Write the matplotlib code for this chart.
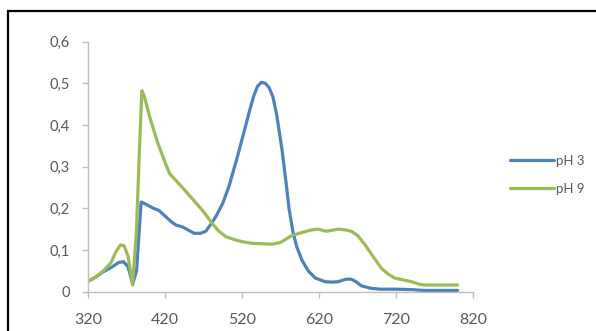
import matplotlib
matplotlib.use("Agg")
import matplotlib.pyplot as plt
from matplotlib.patches import Rectangle
from matplotlib.ticker import FuncFormatter

plt.rcParams['font.family'] = ['Lato', 'DejaVu Sans']

# absorbance spectra, wavelength in nm
wl_ph3 = [320, 330, 340, 350, 360, 366, 372, 378, 383, 389, 395, 405, 412, 421,
          428, 434, 443, 450, 458, 466, 473, 480, 486, 495, 503, 515, 525, 530,
          535, 540, 545, 550, 555, 560, 565, 572, 577, 581, 586, 591, 598, 606,
          615, 628, 637, 645, 655, 662, 668, 675, 688, 700, 720, 740, 757, 780, 800]
abs_ph3 = [0.025, 0.035, 0.048, 0.058, 0.070, 0.072, 0.060, 0.018, 0.050, 0.215,
           0.210, 0.200, 0.195, 0.180, 0.168, 0.160, 0.155, 0.148, 0.140, 0.140,
           0.145, 0.163, 0.180, 0.212, 0.252, 0.330, 0.400, 0.435, 0.468, 0.492,
           0.502, 0.500, 0.490, 0.468, 0.425, 0.340, 0.265, 0.200, 0.145, 0.108,
           0.075, 0.050, 0.033, 0.024, 0.023, 0.024, 0.030, 0.030, 0.024, 0.014,
           0.008, 0.006, 0.006, 0.005, 0.003, 0.003, 0.003]

wl_ph9 = [320, 330, 340, 350, 356, 362, 367, 372, 378, 383, 387, 390, 393, 400,
          410, 420, 426, 440, 455, 470, 482, 490, 499, 510, 520, 533, 545, 559,
          570, 585, 600, 610, 619, 625, 630, 645, 655, 662, 670, 680, 690, 701,
          710, 718, 730, 740, 750, 757, 780, 800]
abs_ph9 = [0.025, 0.035, 0.050, 0.070, 0.095, 0.112, 0.110, 0.085, 0.016, 0.150,
           0.350, 0.482, 0.470, 0.420, 0.360, 0.310, 0.283, 0.255, 0.224, 0.192,
           0.162, 0.145, 0.132, 0.125, 0.120, 0.116, 0.115, 0.114, 0.118, 0.135,
           0.143, 0.148, 0.150, 0.147, 0.145, 0.150, 0.148, 0.145, 0.135, 0.112,
           0.085, 0.056, 0.042, 0.033, 0.028, 0.024, 0.018, 0.016, 0.016, 0.016]

series_names = ["pH 3", "pH 9"]
x_ticks = [320, 420, 520, 620, 720, 820]
y_ticks = [0, 0.1, 0.2, 0.3, 0.4, 0.5, 0.6]

blue = "#4F81BD"
green = "#9BBB59"
grey_txt = "#595959"
grey_ax = "#BFBFBF"

fig = plt.figure(figsize=(5.96, 3.31), dpi=100)
fig.patch.set_facecolor("white")
ax = fig.add_axes([88/596, 1 - 291.7/331, (473 - 88)/596, (291.7 - 41.5)/331])

ax.plot(wl_ph3, abs_ph3, color=blue, lw=2.3, label=series_names[0], solid_capstyle="round",
        solid_joinstyle="round")
ax.plot(wl_ph9, abs_ph9, color=green, lw=2.3, label=series_names[1], solid_capstyle="round",
        solid_joinstyle="round")

ax.set_xlim(320, 820)
ax.set_ylim(0, 0.6)
ax.set_xticks(x_ticks)
ax.set_yticks(y_ticks)
ax.yaxis.set_major_formatter(FuncFormatter(lambda v, p: "0" if v == 0 else "{:.1f}".format(v).replace(".", ",")))

for side in ["top", "right"]:
    ax.spines[side].set_visible(False)
for side in ["left", "bottom"]:
    ax.spines[side].set_color(grey_ax)
    ax.spines[side].set_linewidth(1.0)
ax.tick_params(axis="both", direction="out", length=4, width=1.0, color=grey_ax, colors=grey_txt)
ax.tick_params(axis="y", pad=9, labelsize=10.5)
ax.tick_params(axis="x", pad=11, labelsize=11.5)

leg = fig.legend(loc="upper left", bbox_to_anchor=(510/596, 1 - 155/331), frameon=False,
                 fontsize=9.5, handlelength=3.3, handletextpad=0.15, labelspacing=1.2,
                 borderpad=0, borderaxespad=0)
for t in leg.get_texts():
    t.set_color(grey_txt)

# frame round the chart area
fig.patches.append(Rectangle((8/596, -0.1), 1.2, 1 - 11/331 + 0.1, transform=fig.transFigure,
                             fill=False, edgecolor="black", lw=1.6, zorder=10))

fig.savefig("out.png", dpi=100)
